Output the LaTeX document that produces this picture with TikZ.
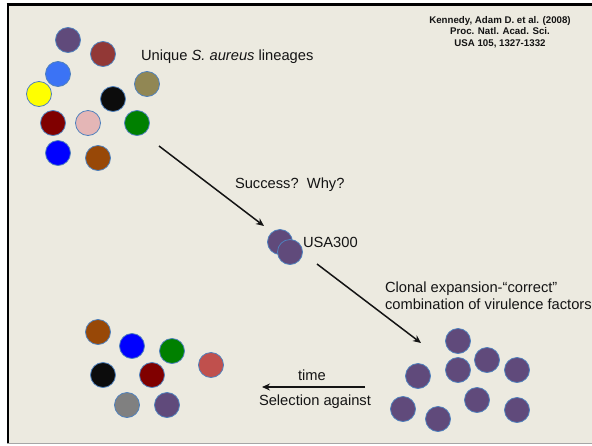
\documentclass[tikz,border=0pt]{standalone}
\usepackage{fontspec}
\setmainfont{Liberation Sans}
\usetikzlibrary{arrows.meta,positioning}

\definecolor{slide}{RGB}{236,234,224}
\definecolor{cellrim}{RGB}{79,129,189}
\definecolor{txt}{RGB}{20,20,20}
\definecolor{lpurple}{RGB}{96,74,123}
\definecolor{lbrick}{RGB}{146,56,54}
\definecolor{lsky}{RGB}{59,115,245}
\definecolor{lyellow}{RGB}{255,255,0}
\definecolor{lolive}{RGB}{145,135,84}
\definecolor{lblack}{RGB}{12,12,12}
\definecolor{lmaroon}{RGB}{128,0,0}
\definecolor{lpink}{RGB}{228,182,182}
\definecolor{lgreen}{RGB}{0,128,0}
\definecolor{lblue}{RGB}{0,0,255}
\definecolor{lbrown}{RGB}{152,72,7}
\definecolor{lcoral}{RGB}{192,80,77}
\definecolor{lgray}{RGB}{128,128,128}

\begin{document}
\begin{tikzpicture}[x=1pt, y=-1pt, every node/.style={inner sep=0pt, outer sep=0pt},
  cell/.style={shape=circle, draw=cellrim, line width=0.8pt, minimum size=25pt, fill=#1},
  lbl/.style={anchor=base west, font=\fontsize{14.7}{17}\selectfont, text=txt},
  flow/.style={-{Stealth[length=8pt,width=7pt]}, line width=1.5pt, draw=txt}]
  \useasboundingbox (0,0) rectangle (592,445);
  % slide
  \fill[white] (0,0) rectangle (592,445);
  \fill[slide] (7,3) rectangle (592,443);
  \draw[line width=3pt] (6.5,4.3) -- (592,4.3);
  \draw[line width=2.7pt] (8,3) -- (8,443);
  \draw[gray!70, line width=1pt] (7,443.5) -- (592,443.5);

  % unique lineages
  \node[cell=lpurple] (u1) at (68,40) {};
  \node[cell=lbrick] (u2) at (103,54) {};
  \node[cell=lsky] (u3) at (58,74) {};
  \node[cell=lyellow] (u4) at (39,94) {};
  \node[cell=lolive] (u5) at (147,84) {};
  \node[cell=lblack] (u6) at (113,99) {};
  \node[cell=lmaroon] (u7) at (53,123) {};
  \node[cell=lpink] (u8) at (88,123) {};
  \node[cell=lgreen] (u9) at (137,123) {};
  \node[cell=lblue] (u10) at (58,153) {};
  \node[cell=lbrown] (u11) at (98,158) {};
  \node[lbl] (unique) at (141,60) {Unique \textit{S. aureus} lineages};

  \node[align=center, anchor=north, text=txt, font=\bfseries\fontsize{9.7}{11.4}\selectfont] (ref) at (500,16.5)
    {Kennedy, Adam D. et al. (2008)\\Proc. Natl. Acad. Sci.\\USA 105, 1327-1332};

  % success
  \coordinate (a1s) at (159,146);
  \coordinate (a1e) at (264,226);
  \draw[flow] (a1s) -- (a1e);
  \node[lbl] (why) at (235,188) {Success?\ \ Why?};

  \node[cell=lpurple] (usa1) at (280,242) {};
  \node[cell=lpurple] (usa2) at (290,252) {};
  \node[lbl] (usa) at (303,247) {USA300};

  % clonal expansion
  \coordinate (a2s) at (317,264);
  \coordinate (a2e) at (421,343);
  \draw[flow] (a2s) -- (a2e);
  \node[lbl] (clonal) at (385,292) {Clonal expansion-“correct”};
  \node[lbl] (combo) at (385,309) {combination of virulence factors};

  \foreach \name/\pos in {c1/{(458,341)}, c2/{(418,376)}, c3/{(458,370)}, c4/{(487,360)}, c5/{(517,370)},
                          c6/{(403,409)}, c7/{(438,419)}, c8/{(477,400)}, c9/{(517,410)}}
    \node[cell=lpurple] (\name) at \pos {};

  % selection against
  \coordinate (a3s) at (365,387);
  \coordinate (a3e) at (262,387);
  \draw[flow] (a3s) -- (a3e);
  \node[lbl] (time) at (298,380) {time};
  \node[lbl] (sel) at (259,405) {Selection against};

  \node[cell=lbrown] (s1) at (98,332) {};
  \node[cell=lblue] (s2) at (132,346) {};
  \node[cell=lgreen] (s3) at (172,351) {};
  \node[cell=lcoral] (s4) at (211,365) {};
  \node[cell=lblack] (s5) at (103,375) {};
  \node[cell=lmaroon] (s6) at (152,375) {};
  \node[cell=lgray] (s7) at (127,405) {};
  \node[cell=lpurple] (s8) at (167,405) {};
\end{tikzpicture}
\end{document}
